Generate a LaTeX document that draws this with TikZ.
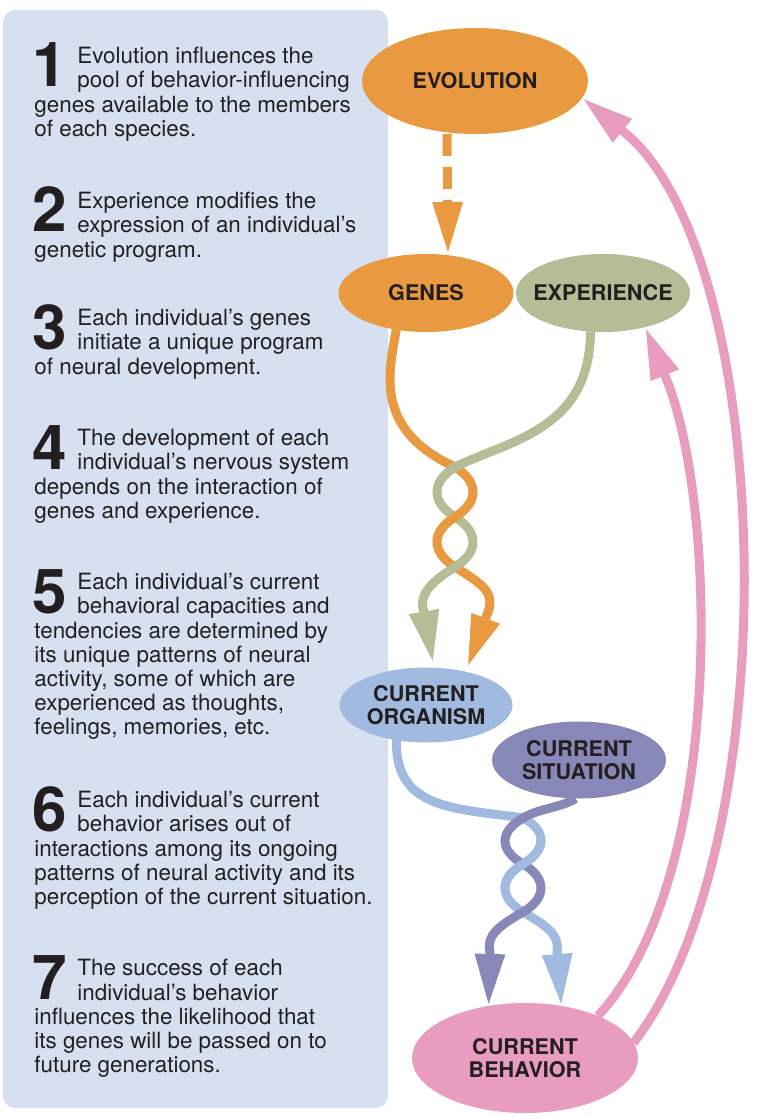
\documentclass[tikz,border=0pt]{standalone}
\usepackage{fontspec}
\setmainfont{TeX Gyre Heros}
\usetikzlibrary{arrows.meta}
\usetikzlibrary{shapes.geometric}
\usetikzlibrary{backgrounds}

\definecolor{panelblue}{RGB}{214,224,240}
\definecolor{evoorange}{RGB}{233,154,64}
\definecolor{expgreen}{RGB}{181,189,150}
\definecolor{orgblue}{RGB}{160,186,224}
\definecolor{sitpurple}{RGB}{135,136,184}
\definecolor{behpink}{RGB}{232,157,192}
\definecolor{inkblack}{RGB}{35,31,32}

\begin{document}
\begin{tikzpicture}
        [
            x = 0.5pt, y = -0.5pt,
            > = {Triangle[length=26pt, width=14pt]},
            oval/.style = {ellipse, inner sep=0pt, outer sep=0pt},
            lab/.style = {font=\fontsize{10.8}{11.5}\selectfont\bfseries, align=center, text=inkblack},
            para/.style = {anchor=north west, inner sep=0pt, align=left, text=inkblack, font=\fontsize{11.2}{12.1}\selectfont},
            numbig/.style = {anchor=base west, inner sep=0pt, text=inkblack, font=\fontsize{31}{31}\selectfont\bfseries},
            strand/.style = {->, line width=4.5pt},
            feedback/.style = {->, line width=4.5pt, draw=behpink}
        ]
        \useasboundingbox (0, 0) rectangle (760, 1118);

        \node [para] at (34, 47) (t1) {\hspace*{21.5pt}Evolution influences the\\\hspace*{21.5pt}pool of behavior-influencing\\genes available to the members\\of each species.};
        \node [numbig] at (32, 87) (n1) {1};
        \node [para] at (34, 192) (t2) {\hspace*{21.5pt}Experience modifies the\\\hspace*{21.5pt}expression of an individual's\\genetic program.};
        \node [numbig] at (32, 232) (n2) {2};
        \node [para] at (34, 309) (t3) {\hspace*{21.5pt}Each individual's genes\\\hspace*{21.5pt}initiate a unique program\\of neural development.};
        \node [numbig] at (32, 349) (n3) {3};
        \node [para] at (34, 429) (t4) {\hspace*{21.5pt}The development of each\\\hspace*{21.5pt}individual's nervous system\\depends on the interaction of\\genes and experience.};
        \node [numbig] at (32, 469) (n4) {4};
        \node [para] at (34, 573) (t5) {\hspace*{21.5pt}Each individual's current\\\hspace*{21.5pt}behavioral capacities and\\tendencies are determined by\\its unique patterns of neural\\activity, some of which are\\experienced as thoughts,\\feelings, memories, etc.};
        \node [numbig] at (32, 613) (n5) {5};
        \node [para] at (34, 791) (t6) {\hspace*{21.5pt}Each individual's current\\\hspace*{21.5pt}behavior arises out of\\interactions among its ongoing\\patterns of neural activity and its\\perception of the current situation.};
        \node [numbig] at (32, 831) (n6) {6};
        \node [para] at (34, 959) (t7) {\hspace*{21.5pt}The success of each\\\hspace*{21.5pt}individual's behavior\\influences the likelihood that\\its genes will be passed on to\\future generations.};
        \node [numbig] at (32, 999) (n7) {7};

        \node [oval, fill=evoorange, minimum width=113pt, minimum height=53pt, label={[lab]center:EVOLUTION}] at (475, 81) (evo) {};
        \node [oval, fill=evoorange, minimum width=87.5pt, minimum height=39pt, label={[lab]center:GENES}] at (426, 293) (genes) {};
        \node [oval, fill=expgreen, minimum width=87pt, minimum height=39pt, label={[lab]center:EXPERIENCE}] at (603, 293) (exp) {};
        \node [oval, fill=orgblue, minimum width=86.5pt, minimum height=37.5pt, label={[lab]center:{CURRENT\\ORGANISM}}] at (426, 705) (org) {};
        \node [oval, fill=sitpurple, minimum width=87pt, minimum height=38.5pt, label={[lab]center:{CURRENT\\SITUATION}}] at (579, 760) (sit) {};
        \node [oval, fill=behpink, minimum width=113pt, minimum height=55pt, label={[lab]center:{CURRENT\\BEHAVIOR}}] at (525, 1058) (beh) {};

        \begin{scope}[on background layer]
            \fill [panelblue, rounded corners=6pt] (3, 10) rectangle (388, 1108);

            \draw [strand, evoorange, dash pattern=on 11pt off 5.5pt] ([xshift=-14pt]evo.south) -- ([xshift=11pt]genes.north);

            % genes and experience twist into the organism
            \draw [strand, evoorange, shorten >=2.5pt] (genes.-129) .. controls (388, 375) and (375, 430) .. (455, 467)
                .. controls (479, 482) and (479, 502) .. (455, 517)
                .. controls (431, 532) and (431, 552) .. (455, 567)
                .. controls (479, 582) and (496, 592) .. (488, 612) -- (org.40);
            \draw [strand, expgreen, shorten >=2.5pt] (exp.-108) .. controls (590, 430) and (510, 440) .. (455, 467)
                .. controls (431, 482) and (431, 502) .. (455, 517)
                .. controls (479, 532) and (479, 552) .. (455, 567)
                .. controls (431, 582) and (418, 595) .. (424, 612) -- (org.78);
            \draw [line width=4.5pt, evoorange] (473, 492) .. controls (473, 500.75) and (467, 509.5) .. (455, 517)
                .. controls (443, 524.5) and (437, 533.25) .. (437, 542);

            % organism and situation twist into the behavior
            \draw [strand, orgblue] (org.-130) .. controls (395, 810) and (455, 808) .. (523, 818)
                .. controls (547, 830) and (547, 850) .. (523, 864)
                .. controls (499, 878) and (499, 898) .. (523, 912)
                .. controls (547, 926) and (560, 935) .. (557, 952) -- (beh.55);
            \draw [strand, sitpurple] (sit.-95) .. controls (560, 808) and (540, 808) .. (523, 818)
                .. controls (499, 832) and (499, 850) .. (523, 864)
                .. controls (547, 878) and (547, 898) .. (523, 912)
                .. controls (499, 926) and (486, 935) .. (490, 952) -- (beh.125);
            \draw [line width=4.5pt, orgblue] (541, 840.25) .. controls (541, 848.5) and (535, 857) .. (523, 864)
                .. controls (511, 871) and (505, 879.5) .. (505, 888);

            % feedback
            \draw [feedback] (beh.8) .. controls (790, 840) and (775, 254) .. (624, 132) -- (evo.-9);
            \draw [feedback] (beh.30) .. controls (725, 880) and (718, 505) .. (666, 378) -- (exp.-39);
        \end{scope}
    \end{tikzpicture}
\end{document}
